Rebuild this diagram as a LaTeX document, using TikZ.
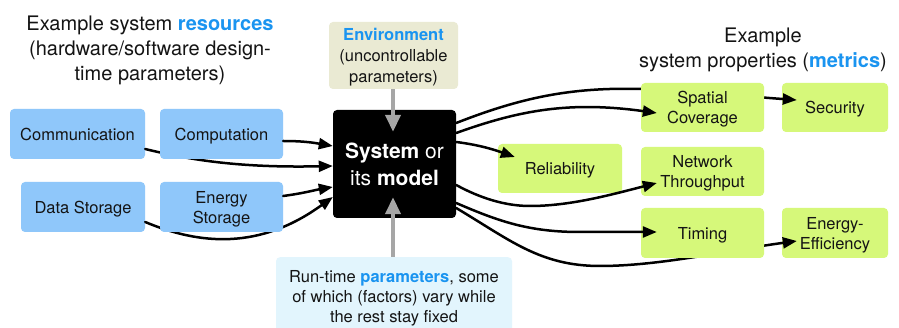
\documentclass[tikz,border=0pt]{standalone}
\usepackage{fontspec}
\setmainfont{TeX Gyre Heros}
\usetikzlibrary{arrows.meta}
\definecolor{resblue}{RGB}{143,199,250}
\definecolor{metgreen}{RGB}{214,248,122}
\definecolor{envbeige}{RGB}{234,234,211}
\definecolor{runcyan}{RGB}{226,245,253}
\definecolor{hl}{RGB}{26,148,240}
\definecolor{garrow}{RGB}{166,166,166}
\definecolor{txt}{RGB}{20,20,20}
\tikzset{
 mybox/.style={rounded corners=4pt, minimum width=123pt, minimum height=50pt, align=center, inner sep=0pt, text depth=0pt, text=txt, font=\fontsize{16.5}{20}\selectfont},
 resbox/.style={mybox, fill=resblue},
 metbox/.style={mybox, fill=metgreen},
 conn/.style={line width=2.5pt, line cap=round, -{Triangle[length=14pt,width=11pt]}},
 gconn/.style={draw=garrow, line width=4pt, -{Triangle[length=17pt,width=15pt]}},
 ttl/.style={align=center, text=txt, font=\fontsize{20}{25}\selectfont},
}
\begin{document}
\begin{tikzpicture}[x=1pt,y=-1pt]
\useasboundingbox (0,0) rectangle (899,328);
\fill[white] (0,0) rectangle (899,328);

% titles
\node[ttl] (ltitle) at (150,50) {Example system \textbf{\textcolor{hl}{resources}}\\(hardware/software design-\\time parameters)};
\node[ttl] (rtitle) at (763,50) {Example\\system properties (\textbf{\textcolor{hl}{metrics}})};

% boxes under through-lines
\node[metbox, minimum width=106pt, minimum height=49pt] (security) at (835,107.5) {Security};
\node[metbox, minimum width=106pt] (eneff) at (835,233) {Energy-\\Efficiency};
\node[mybox, fill=black, minimum height=108pt, text=white, font=\fontsize{21}{27}\selectfont] (sys) at (394.5,164) {\textbf{System} or\\its \textbf{model}};
\node[resbox, minimum width=135pt] (comm) at (77.5,134) {Communication};
\node[resbox, minimum width=124pt] (data) at (83,207) {Data Storage};

% through-lines
\draw[conn] ([yshift=-15pt]comm.east) .. controls (190,160) and (240,168) .. ([yshift=-2pt]sys.west);
\draw[conn] ([yshift=-15pt]data.east) .. controls (200,245) and (260,250) .. ([yshift=-33pt]sys.west);
\draw[conn] ([yshift=41pt]sys.east) .. controls (520,98) and (570,87) .. (641,89) .. controls (700,91) and (740,96) .. ([xshift=15pt,yshift=7.5pt]security.west);
\draw[conn] ([yshift=-44pt]sys.east) .. controls (510,240) and (540,266) .. (600,266) .. controls (660,266) and (730,250) .. ([xshift=15pt,yshift=-8pt]eneff.west);

% other boxes
\node[resbox] (comp) at (221.5,134) {Computation};
\node[resbox] (energy) at (221.5,207) {Energy\\Storage};
\node[metbox, minimum height=49pt] (spatial) at (702.5,107.5) {Spatial\\Coverage};
\node[metbox, minimum height=49pt] (net) at (702.5,171.5) {Network\\Throughput};
\node[metbox] (timing) at (702.5,233) {Timing};
\node[metbox, minimum width=124pt, minimum height=49pt] (rel) at (560,168.5) {Reliability};
\node[mybox, fill=envbeige, minimum width=129pt, minimum height=67pt, font=\fontsize{16.5}{21}\selectfont] (env) at (393.5,55.5) {\textbf{\textcolor{hl}{Environment}}\\(uncontrollable\\parameters)};
\node[mybox, fill=runcyan, minimum width=236pt, minimum height=83pt, anchor=north] (run) at (394,257) {};
\node[align=center, text=txt, font=\fontsize{16.5}{20}\selectfont] (runtext) at (394,298) {Run-time \textbf{\textcolor{hl}{parameters}}, some\\of which (factors) vary while\\the rest stay fixed};

% other connectors
\draw[conn] ([yshift=-7pt]comp.east) .. controls (305,141) and (315,143) .. ([yshift=18pt]sys.west);
\draw[conn] ([yshift=11pt]energy.east) .. controls (305,193) and (315,190) .. ([yshift=-23pt]sys.west);
\draw[conn] ([yshift=31pt]sys.east) .. controls (520,110) and (570,101) .. ([xshift=16pt,yshift=-5.5pt]spatial.west);
\draw[conn] ([yshift=22pt]sys.east) .. controls (480,145) and (495,150) .. ([xshift=17pt,yshift=11.5pt]rel.west);
\draw[conn] ([yshift=-21pt]sys.east) .. controls (480,198) and (505,206) .. (530,206) .. controls (570,206) and (610,195) .. ([xshift=16pt,yshift=-11.5pt]net.west);
\draw[conn] ([yshift=-39pt]sys.east) .. controls (500,222) and (530,232) .. (580,232) -- ([xshift=16pt,yshift=1pt]timing.west);

% gray arrows
\draw[gconn] ([xshift=-0.5pt]env.south) -- ([xshift=-1.5pt,yshift=-22pt]sys.north);
\draw[gconn] ([xshift=-1pt]run.north) -- ([xshift=-1.5pt,yshift=21pt]sys.south);
\end{tikzpicture}
\end{document}
